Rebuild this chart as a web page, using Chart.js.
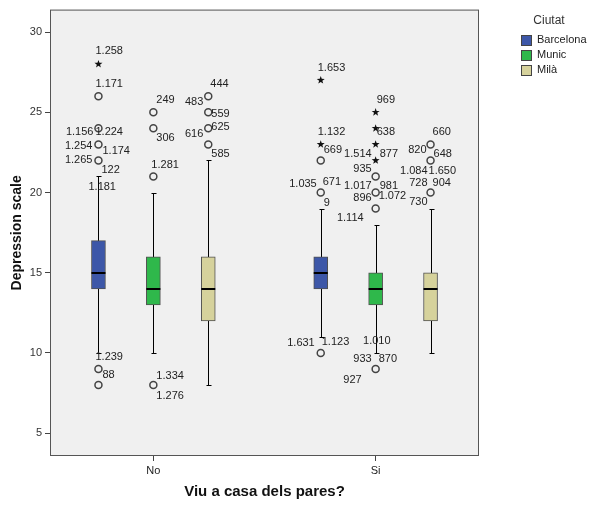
<!DOCTYPE html>
<html><head><meta charset="utf-8">
<script src="https://cdn.jsdelivr.net/npm/chart.js@4.4.1/dist/chart.umd.min.js"></script>
<style>html,body{margin:0;padding:0;background:#fff;}</style>
</head><body>
<canvas id="c" width="596" height="506"></canvas>
<script>
const categories = ['No', 'Si'];
const cities = ['Barcelona', 'Munic', 'Milà'];
const yTicks = [5, 10, 15, 20, 25, 30];
// [lower whisker, Q1, median, Q3, upper whisker] for No, Si
const barcelonaBox = [[10, 14, 15, 17, 21], [11, 14, 15, 16, 19]];
const municBox = [[10, 13, 14, 16, 20], [10, 13, 14, 15, 18]];
const milaBox = [[8, 12, 14, 16, 22], [10, 12, 14, 15, 19]];
// outliers (circles) and extremes (stars) for No, Si
const barcelonaOutliers = [[26, 24, 23, 22, 9, 8], [22, 20, 10]];
const municOutliers = [[25, 24, 21, 8], [21, 20, 19, 9]];
const milaOutliers = [[26, 25, 24, 23], [23, 22, 20]];
const barcelonaExtremes = [[28], [27, 23]];
const municExtremes = [[], [25, 24, 23, 22]];
const milaExtremes = [[], []];
// case labels: [city index, category index, value, text]
const caseLabels = [
 [0,0,28,'1.258'],[0,0,26,'1.171'],[0,0,24,'1.156'],[0,0,24,'1.224'],[0,0,23,'1.254'],[0,0,23,'1.174'],
 [0,0,22,'1.265'],[0,0,22,'122'],[0,0,22,'1.181'],[0,0,9,'1.239'],[0,0,9,'88'],
 [1,0,25,'249'],[1,0,24,'306'],[1,0,21,'1.281'],[1,0,8,'1.334'],[1,0,8,'1.276'],
 [2,0,26,'444'],[2,0,25,'483'],[2,0,25,'559'],[2,0,24,'616'],[2,0,24,'625'],[2,0,23,'585'],
 [0,1,27,'1.653'],[0,1,23,'1.132'],[0,1,22,'669'],[0,1,20,'1.035'],[0,1,20,'671'],[0,1,20,'9'],
 [0,1,10,'1.631'],[0,1,10,'1.123'],
 [1,1,25,'969'],[1,1,24,'638'],[1,1,23,'1.514'],[1,1,23,'877'],[1,1,21,'935'],[1,1,20,'1.017'],
 [1,1,20,'981'],[1,1,20,'896'],[1,1,20,'1.072'],[1,1,19,'1.114'],[1,1,9,'1.010'],[1,1,9,'933'],
 [1,1,9,'870'],[1,1,9,'927'],
 [2,1,23,'660'],[2,1,22,'820'],[2,1,22,'648'],[2,1,22,'1.084'],[2,1,22,'1.650'],[2,1,20,'728'],
 [2,1,20,'904'],[2,1,20,'730']
];
// layout of the case labels relative to their point: [dx, dy, align]
const labelOffsets = [
 [-3,-13,'l'],[-3,-12,'l'],[-5,4,'r'],[-3,4,'l'],[-6,2,'r'],[4,7,'l'],
 [-6,0,'r'],[3,10,'l'],[-10,27,'l'],[-3,-12,'l'],[4,6,'l'],
 [3,-12,'l'],[3,10,'l'],[-2,-12,'l'],[3,-9,'l'],[3,11,'l'],
 [2,-12,'l'],[-5,-10,'r'],[3,2,'l'],[-5,6,'r'],[3,-1,'l'],[3,10,'l'],
 [-3,-12,'l'],[-3,-12,'l'],[3,-10,'l'],[-4,-9,'r'],[2,-11,'l'],[3,10,'l'],
 [-6,-10,'r'],[1,-11.5,'l'],
 [1,-12,'l'],[1,3.5,'l'],[-4,10,'r'],[4,10,'l'],[-4,-7.5,'r'],[-4,-7,'r'],
 [4,-7,'l'],[-4,5.5,'r'],[3,3.5,'l'],[-12,9,'r'],[-12.6,-27.7,'l'],[-4,-10,'r'],
 [3,-10,'l'],[-14,10.6,'r'],
 [2,-12,'l'],[-4,-10,'r'],[3,-6,'l'],[-3,11,'r'],[-2,11,'l'],[-3,-10,'r'],
 [2,-10,'l'],[-3,9.5,'r']
];

const boxes = [barcelonaBox, municBox, milaBox];
const outliers = [barcelonaOutliers, municOutliers, milaOutliers];
const extremes = [barcelonaExtremes, municExtremes, milaExtremes];
const colors = ['#3d57a8', '#2fb84b', '#d6d29c'];
const FONT = "'Liberation Sans', Arial, sans-serif";
const groupSpread = 0.247;

const datasets = cities.map((c, i) => ({
  label: c,
  data: categories.map((cat, j) => ({ x: j + 1 + (i - 1) * groupSpread, y: [boxes[i][j][1], boxes[i][j][3]] })),
  backgroundColor: colors[i],
  borderColor: '#505050',
  borderWidth: 1,
  borderSkipped: false,
  barThickness: 14,
  grouped: false
}));

function barX(chart, i, j) { return chart.getDatasetMeta(i).data[j].x; }

const boxPlugin = {
  id: 'boxExtras',
  beforeDraw(chart) {
    const { ctx, chartArea: a } = chart;
    ctx.save();
    ctx.fillStyle = '#f0f0f0';
    ctx.fillRect(a.left, a.top, a.right - a.left, a.bottom - a.top);
    ctx.restore();
  },
  beforeDatasetsDraw(chart) {
    const { ctx } = chart; const ys = chart.scales.y;
    ctx.save();
    ctx.strokeStyle = '#000'; ctx.lineWidth = 1;
    boxes.forEach((b, i) => b.forEach((st, j) => {
      const x = Math.round(barX(chart, i, j)) + 0.5;
      const yMin = Math.round(ys.getPixelForValue(st[0])) + 0.5;
      const yMax = Math.round(ys.getPixelForValue(st[4])) + 0.5;
      ctx.beginPath();
      ctx.moveTo(x, yMin); ctx.lineTo(x, yMax);
      ctx.moveTo(x - 2, yMin); ctx.lineTo(x + 3, yMin);
      ctx.moveTo(x - 2, yMax); ctx.lineTo(x + 3, yMax);
      ctx.stroke();
    }));
    ctx.restore();
  },
  afterDatasetsDraw(chart) {
    const { ctx } = chart; const ys = chart.scales.y;
    ctx.save();
    // medians
    ctx.strokeStyle = '#000'; ctx.lineWidth = 2;
    boxes.forEach((b, i) => b.forEach((st, j) => {
      const x = barX(chart, i, j);
      const y = Math.round(ys.getPixelForValue(st[2]));
      ctx.beginPath(); ctx.moveTo(x - 7, y); ctx.lineTo(x + 7, y); ctx.stroke();
    }));
    // outliers
    ctx.strokeStyle = '#444'; ctx.lineWidth = 1.5;
    outliers.forEach((o, i) => o.forEach((vals, j) => vals.forEach(v => {
      const x = barX(chart, i, j); const y = ys.getPixelForValue(v);
      ctx.beginPath(); ctx.arc(x, y, 3.5, 0, Math.PI * 2); ctx.stroke();
    })));
    // extremes
    ctx.fillStyle = '#111';
    extremes.forEach((o, i) => o.forEach((vals, j) => vals.forEach(v => {
      const x = barX(chart, i, j); const y = ys.getPixelForValue(v);
      ctx.beginPath();
      for (let k = 0; k < 10; k++) {
        const r = k % 2 === 0 ? 4.2 : 1.7;
        const ang = -Math.PI / 2 + k * Math.PI / 5;
        const px = x + r * Math.cos(ang), py = y + r * Math.sin(ang);
        if (k === 0) ctx.moveTo(px, py); else ctx.lineTo(px, py);
      }
      ctx.closePath(); ctx.fill();
    })));
    // case labels
    ctx.fillStyle = '#222';
    ctx.font = '11px ' + FONT;
    ctx.textBaseline = 'middle';
    caseLabels.forEach((lab, k) => {
      const [i, j, v, text] = lab;
      const [dx, dy, al] = labelOffsets[k];
      const x = barX(chart, i, j); const y = ys.getPixelForValue(v);
      ctx.textAlign = al === 'r' ? 'right' : 'left';
      ctx.fillText(text, x + dx, y + dy);
    });
    ctx.restore();
  },
  afterDraw(chart) {
    const { ctx, chartArea: a } = chart;
    ctx.save();
    ctx.strokeStyle = '#555'; ctx.lineWidth = 1;
    ctx.strokeRect(a.left + 0.5, a.top + 0.5, a.right - a.left - 1, a.bottom - a.top - 1);
    // legend
    ctx.fillStyle = '#333';
    ctx.font = '12px ' + FONT;
    ctx.textAlign = 'center'; ctx.textBaseline = 'middle';
    ctx.fillText('Ciutat', 549, 21);
    ctx.font = '11px ' + FONT;
    ctx.textAlign = 'left';
    chart.data.datasets.forEach((ds, i) => {
      const cy = 39.5 + i * 15.2;
      ctx.fillStyle = ds.backgroundColor;
      ctx.fillRect(521, Math.round(cy - 5), 11, 11);
      ctx.strokeStyle = '#444';
      ctx.strokeRect(521.5, Math.round(cy - 5) + 0.5, 10, 10);
      ctx.fillStyle = '#222';
      ctx.fillText(ds.label, 537, cy + 0.5);
    });
    ctx.restore();
  }
};

new Chart(document.getElementById('c'), {
  type: 'bar',
  data: { datasets },
  options: {
    responsive: false,
    devicePixelRatio: 1,
    animation: false,
    layout: { padding: { top: 6, right: 117, bottom: 0, left: 0 } },
    plugins: { legend: { display: false }, tooltip: { enabled: false } },
    scales: {
      x: {
        type: 'linear', min: 0.535, max: 2.465, offset: false,
        afterFit(s) { s.height = 50; },
        afterBuildTicks(s) { s.ticks = categories.map((c, i) => ({ value: i + 1 })); },
        grid: { display: true, drawOnChartArea: false, drawTicks: true, tickLength: 5, color: '#444', offset: false },
        border: { display: false },
        ticks: { callback: (v) => categories[Math.round(v) - 1], color: '#222', font: { family: FONT, size: 11 }, padding: 3, maxRotation: 0 },
        title: { display: true, text: 'Viu a casa dels pares?', color: '#111', font: { family: FONT, size: 15, weight: 'bold' }, padding: { top: 0, bottom: 5 } }
      },
      y: {
        min: 3.58, max: 31.4,
        afterFit(s) { s.width = 50; },
        afterBuildTicks(s) { s.ticks = yTicks.map(v => ({ value: v })); },
        grid: { display: true, drawOnChartArea: false, drawTicks: true, tickLength: 5, color: '#444' },
        border: { display: false },
        ticks: { color: '#333', font: { family: FONT, size: 11 }, padding: 3 },
        title: { display: true, text: 'Depression scale', color: '#111', font: { family: FONT, size: 14, weight: 'bold' }, padding: { top: 9, bottom: 0 } }
      }
    }
  },
  plugins: [boxPlugin]
});
</script>
</body></html>
